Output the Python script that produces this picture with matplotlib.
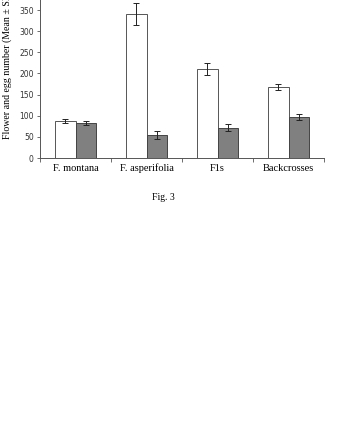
import numpy as np
import matplotlib
matplotlib.use('Agg')
import matplotlib.pyplot as plt

# data
groups = ['F. montana', 'F. asperifolia', 'F1s', 'Backcrosses']
flowers = [87, 341, 210, 167]
flowers_se = [5, 27, 14, 7]
eggs = [83, 54, 72, 96]
eggs_se = [4, 10, 8, 7]
yticks = [0, 50, 100, 150, 200, 250, 300, 350]

fig = plt.figure(figsize=(3.44, 4.41), dpi=100)
# axes top runs past the figure edge (the reference is cropped there)
ax = fig.add_axes([40 / 344, 1 - 158 / 441, 284 / 344, (158 + 11) / 441])

x = np.arange(len(groups))
w = 0.295
ek = dict(ecolor='#222222', elinewidth=0.7, capsize=2, capthick=0.7)
ax.bar(x - w / 2, flowers, w, yerr=flowers_se, color='white',
       edgecolor='#555555', linewidth=0.7, error_kw=ek)
ax.bar(x + w / 2, eggs, w, yerr=eggs_se, color='#808080',
       edgecolor='#444444', linewidth=0.7, error_kw=ek)

ax.set_xlim(-0.5, len(groups) - 0.5)
ax.set_ylim(0, 400)
ax.set_yticks(yticks)
ax.set_yticklabels([str(v) for v in yticks], fontsize=5.5, color='#333333')
ax.set_xticks(x)
ax.set_xticklabels(groups, family='Liberation Serif', fontsize=7.5)
ax.tick_params(axis='x', length=0, pad=4)
ax.set_xticks(np.arange(len(groups) + 1) - 0.5, minor=True)
ax.tick_params(axis='x', which='minor', length=3, color='#555555', width=0.6)
ax.tick_params(axis='y', length=2.5, width=0.6, color='#555555', pad=2)

for s in ['top', 'right']:
    ax.spines[s].set_visible(False)
for s in ['left', 'bottom']:
    ax.spines[s].set_color('#555555')
    ax.spines[s].set_linewidth(0.7)

# label is cut at the top edge in the reference too
fig.text(7 / 344, 1 - 139 / 441, 'Flower and egg number (Mean \u00b1 SE)',
         rotation=90, ha='center', va='bottom', family='Liberation Serif',
         fontsize=7.1)
fig.text(163 / 344, 1 - 197 / 441, 'Fig. 3', ha='center', va='center',
         family='Liberation Serif', fontsize=7)

fig.savefig('out.png', dpi=100)
